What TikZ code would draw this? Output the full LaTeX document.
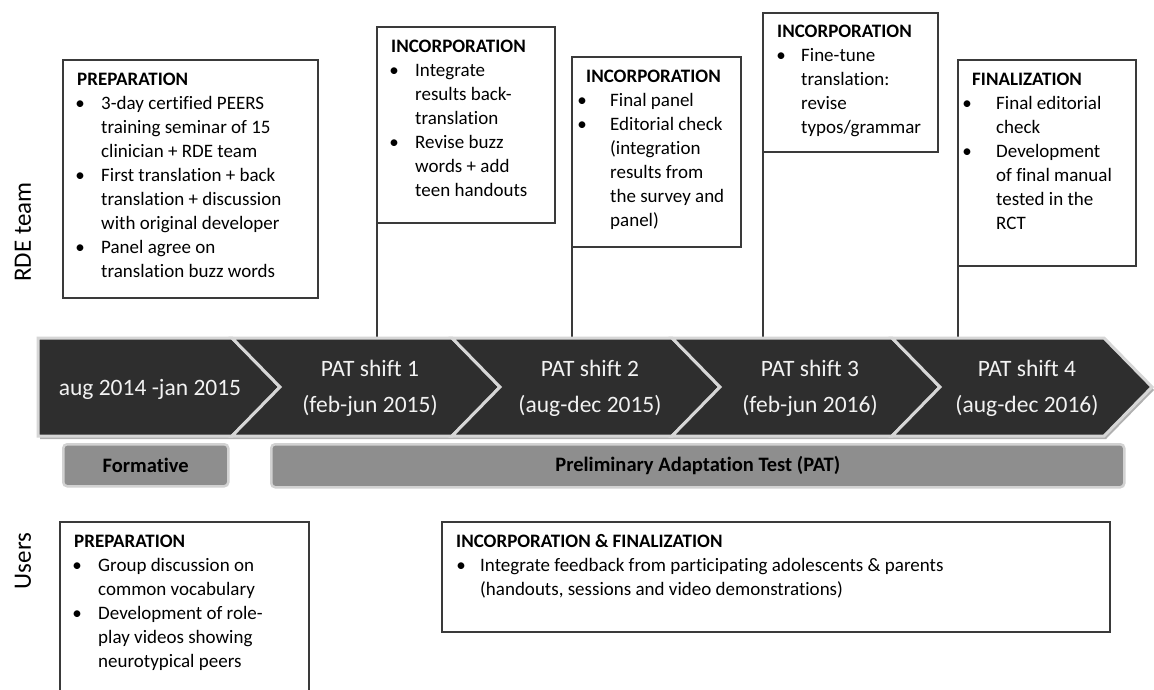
\documentclass[tikz,border=0pt]{standalone}
\usepackage{fontspec}
\setmainfont{Carlito}[Ligatures=CommonOff]
\definecolor{chevdark}{HTML}{2E2E2E}
\definecolor{chevedge}{HTML}{D6D6D6}
\definecolor{chevshadow}{HTML}{B0B0B0}
\definecolor{barfill}{HTML}{8E8E8E}
\definecolor{bardraw}{HTML}{D2D2D2}
\definecolor{boxline}{HTML}{3A3A3A}
\definecolor{chevtext}{HTML}{F2F2F2}
\newcommand\bi[2][3pt]{\makebox[24pt][l]{\hspace*{#1}\makebox[0pt]{\textbullet}}#2}
\newcommand\ci[1]{\hspace*{24pt}#1}
\newcommand\fs{\rule{0pt}{13pt}}
\begin{document}
\begin{tikzpicture}[x=1pt,y=-1pt,
  box/.style={draw=boxline, line width=1.2pt, anchor=north west, inner sep=0pt, outer sep=0pt},
  boxtxt/.style={anchor=north west, inner sep=0pt, align=left, font=\fontsize{19}{24}\selectfont, text=black},
  conn/.style={draw=boxline, line width=1.2pt},
  chev/.style={fill=chevdark, draw=chevedge, line width=3pt, line join=miter},
  chevtxt/.style={text=chevtext, font=\fontsize{23.5}{36}\selectfont, align=center, inner sep=0pt},
  bar/.style={fill=barfill, draw=bardraw, line width=2.5pt, rounded corners=4pt, anchor=north west, inner sep=0pt, font=\fontsize{20.5}{24}\selectfont\bfseries},
  side/.style={rotate=90, font=\fontsize{25}{30}\selectfont, inner sep=0pt}]
\useasboundingbox[fill=white] (0,0) rectangle (1154,690);
\coordinate (bandtop) at (0,338);

% side labels
\node[side] (rde) at (23,232) {RDE team};
\node[side] (users) at (23,561) {Users};

% RDE boxes
\node[box, minimum width=255pt, minimum height=238pt] (prep) at (63,60) {};
\node[boxtxt] (prept) at ([xshift=14pt,yshift=-12pt]prep.north west) {\fs\textbf{PREPARATION}\\
\bi{3-day certified PEERS}\\
\ci{training seminar of 15}\\
\ci{clinician + RDE team}\\
\bi{First translation + back}\\
\ci{translation + discussion}\\
\ci{with original developer}\\
\bi{Panel agree on}\\
\ci{translation buzz words}};

\node[box, minimum width=178pt, minimum height=196pt] (inca) at (377,27) {};
\node[boxtxt] (incat) at ([xshift=14pt,yshift=-12pt]inca.north west) {\fs\textbf{INCORPORATION}\\
\bi{Integrate}\\
\ci{results back-}\\
\ci{translation}\\
\bi{Revise buzz}\\
\ci{words + add}\\
\ci{teen handouts}};

\node[box, minimum width=169pt, minimum height=190pt] (incb) at (572,57) {};
\node[boxtxt] (incbt) at ([xshift=14pt,yshift=-12pt]incb.north west) {\fs\textbf{INCORPORATION}\\
\bi[-4pt]{Final panel}\\
\bi[-4pt]{Editorial check}\\
\ci{(integration}\\
\ci{results from}\\
\ci{the survey and}\\
\ci{panel)}};

\node[box, minimum width=175pt, minimum height=139pt] (incc) at (763,13) {};
\node[boxtxt] (incct) at ([xshift=14pt,yshift=-11pt]incc.north west) {\fs\textbf{INCORPORATION}\\
\bi[4pt]{Fine-tune}\\
\ci{translation:}\\
\ci{revise}\\
\ci{typos/grammar}};

\node[box, minimum width=178pt, minimum height=206pt] (fin) at (958,60) {};
\node[boxtxt] (fint) at ([xshift=14pt,yshift=-12pt]fin.north west) {\fs\textbf{FINALIZATION}\\
\bi[-5pt]{Final editorial}\\
\ci{check}\\
\bi[-5pt]{Development}\\
\ci{of final manual}\\
\ci{tested in the}\\
\ci{RCT}};

% connectors to the band
\draw[conn] (inca.south west) -- (inca.south west |- bandtop);
\draw[conn] (incb.south west) -- (incb.south west |- bandtop);
\draw[conn] (incc.south west) -- (incc.south west |- bandtop);
\draw[conn] (fin.south west) -- (fin.south west |- bandtop);

% band shadow
\fill[chevshadow] (40,341) -- (1106,341) -- (1154,390) -- (1106,439) -- (40,439) -- cycle;
% chevrons
\draw[chev] (38,338) -- (232,338) -- (280,387) -- (232,436) -- (38,436) -- cycle;
\draw[chev] (232,338) -- (452,338) -- (500,387) -- (452,436) -- (232,436) -- (280,387) -- cycle;
\draw[chev] (452,338) -- (672,338) -- (720,387) -- (672,436) -- (452,436) -- (500,387) -- cycle;
\draw[chev] (672,338) -- (892,338) -- (940,387) -- (892,436) -- (672,436) -- (720,387) -- cycle;
\draw[chev] (892,338) -- (1104,338) -- (1152,387) -- (1104,436) -- (892,436) -- (940,387) -- cycle;

\node[chevtxt, anchor=base] (p0) at (150,395) {aug 2014 -jan 2015};
\node[chevtxt] (p1) at (370,388) {PAT shift 1\\(feb-jun 2015)};
\node[chevtxt] (p2) at (590,388) {PAT shift 2\\(aug-dec 2015)};
\node[chevtxt] (p3) at (810,388) {PAT shift 3\\(feb-jun 2016)};
\node[chevtxt] (p4) at (1027,388) {PAT shift 4\\(aug-dec 2016)};

% phase bars
\node[bar, minimum width=165pt, minimum height=42pt] (form) at (62,443) {Formative};
\node[bar, minimum width=853pt, minimum height=43pt] (pat) at (270,443) {Preliminary Adaptation Test (PAT)};

% Users boxes
\node[box, minimum width=249pt, minimum height=180pt] (uprep) at (60,522) {};
\node[boxtxt] (uprept) at ([xshift=14pt,yshift=-12pt]uprep.north west) {\fs\textbf{PREPARATION}\\
\bi{Group discussion on}\\
\ci{common vocabulary}\\
\bi{Development of role-}\\
\ci{play videos showing}\\
\ci{neurotypical peers}};

\node[box, minimum width=668pt, minimum height=110pt] (uinc) at (442,522) {};
\node[boxtxt] (uinct) at ([xshift=14pt,yshift=-12pt]uinc.north west) {\fs\textbf{INCORPORATION \& FINALIZATION}\\
\bi[5pt]{Integrate feedback from participating adolescents \& parents}\\
\ci{(handouts, sessions and video demonstrations)}};
\end{tikzpicture}
\end{document}
